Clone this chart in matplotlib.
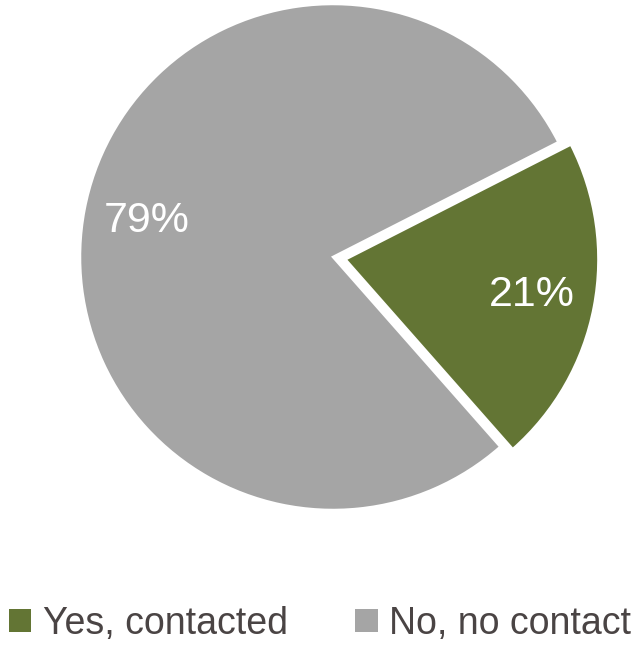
import matplotlib
matplotlib.use("Agg")
import matplotlib.pyplot as plt
from matplotlib.patches import Patch

categories = ["Yes, contacted", "No, no contact"]
values = [21, 79]
colors = ["#637534", "#A5A5A5"]

fig = plt.figure(figsize=(6.4, 6.49), dpi=100)
ax = fig.add_axes([0, 0, 1, 1])
wedges, texts, autotexts = ax.pie(
    values, colors=colors, startangle=-48.6, counterclock=True,
    explode=[0.05, 0], autopct=lambda p: f"{p:.0f}%", pctdistance=0.75,
    wedgeprops=dict(edgecolor="white", linewidth=1.8),
    textprops=dict(color="white", fontsize=31, family=["Liberation Sans", "DejaVu Sans"]),
)
ax.set_xlim(-333/253, (640-333)/253)
ax.set_ylim(-(649-257)/253, 257/253)
ax.set_aspect("auto")
ax.axis("off")

handles = [Patch(facecolor=c, edgecolor="none") for c in colors]
fig.legend(handles, categories, loc="lower center", bbox_to_anchor=(0.5, -0.012), ncol=2,
           frameon=False, prop=dict(family=["Liberation Sans", "DejaVu Sans"], size=27),
           labelcolor="#4a4444", handlelength=0.6, handleheight=0.6, handletextpad=0.3,
           columnspacing=1.8, borderaxespad=0)
fig.savefig("out.png", dpi=100)
